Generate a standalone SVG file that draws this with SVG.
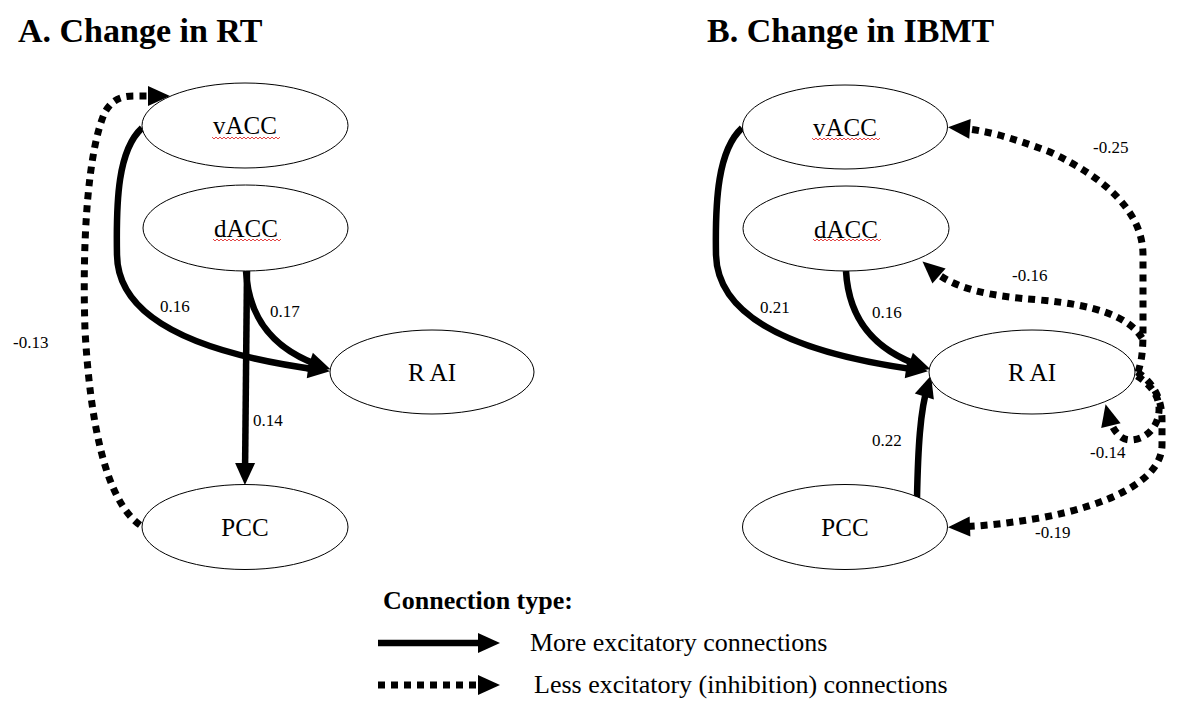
<svg xmlns="http://www.w3.org/2000/svg" xmlns:xlink="http://www.w3.org/1999/xlink" width="1196" height="706" viewBox="0 0 1196 706">
<style>
text{font-family:'Liberation Serif','Times New Roman',Tinos,'DejaVu Serif',serif;fill:#000}
.node{fill:#fff;stroke:#000;stroke-width:1}
.nt{font-size:25px;text-anchor:middle}
.title{font-size:34px;font-weight:bold}
.el{font-size:17px}
.lg{font-size:26px}
.solid{fill:none;stroke:#000;stroke-width:6.5;marker-end:url(#ah)}
.dot{fill:none;stroke:#000;stroke-width:7;stroke-dasharray:7 6;marker-end:url(#ah)}
.sq{fill:none;stroke:#e03030;stroke-width:0.9}
</style>
<defs>
<marker id="ah" markerUnits="userSpaceOnUse" markerWidth="22" markerHeight="20" refX="12" refY="10" orient="auto" overflow="visible">
<path d="M0,0 L22,10 L0,20 z" fill="#000"/>
</marker>
<path id="sqz" d="M0,0 l2,2 l2,-2 l2,2 l2,-2 l2,2 l2,-2 l2,2 l2,-2 l2,2 l2,-2 l2,2 l2,-2 l2,2 l2,-2 l2,2 l2,-2 l2,2 l2,-2 l2,2 l2,-2 l2,2 l2,-2 l2,2 l2,-2 l2,2 l2,-2 l2,2 l2,-2 l2,2 l2,-2 l2,2 l2,-2 l2,2 l2,-2"/>
</defs>
<rect width="1196" height="706" fill="#fff"/>

<text class="title" x="18" y="42" font-family="Liberation Serif, serif">A. Change in RT</text>
<text class="title" x="707" y="42" font-family="Liberation Serif, serif">B. Change in IBMT</text>

<g id="connectors">
<!-- Panel A -->
<path class="solid" d="M142,128 C118,150 116,200 117,255 C118,330 230,358 320,370"/>
<path class="solid" d="M246,271 C249,325 280,352 321,366"/>
<path class="solid" d="M247,271 L245,475"/>
<path class="dot" d="M140,525 C105,500 90,420 85,330 C82,240 88,150 105,112 C112,100 120,96 135,96 L160,96"/>
<!-- Panel B -->
<path class="solid" d="M742,128 C718,150 715,200 716,255 C718,330 830,358 918,370"/>
<path class="solid" d="M846,271 C849,325 880,352 921,366"/>
<path class="solid" d="M917,498 C918,450 920,410 928,385"/>
<path class="dot" d="M1138,372 C1142,360 1143,350 1143,330 L1143,255 C1143,215 1110,180 1050,152 C1010,137 985,130 958,128"/>
<path class="dot" d="M1142,338 C1128,316 1095,305 1040,300 C990,296 955,290 930,268"/>
<path class="dot" d="M1137,372 C1150,380 1162,395 1162,420 L1162,445 C1162,480 1110,505 1040,518 C1010,523 985,526 958,527"/>
<path class="dot" d="M1137,376 C1150,384 1160,396 1159,411 C1158,428 1145,440 1130,440 C1120,440 1112,430 1108,414"/>
</g>

<g id="edge-labels">
<text class="el" x="160" y="312">0.16</text>
<text class="el" x="270" y="317">0.17</text>
<text class="el" x="13" y="348">-0.13</text>
<text class="el" x="253" y="426">0.14</text>
<text class="el" x="760" y="313">0.21</text>
<text class="el" x="872" y="318">0.16</text>
<text class="el" x="1093" y="153">-0.25</text>
<text class="el" x="1012" y="281">-0.16</text>
<text class="el" x="872" y="446">0.22</text>
<text class="el" x="1090" y="458">-0.14</text>
<text class="el" x="1035" y="538">-0.19</text>
</g>

<g id="A-vACC"><ellipse class="node" cx="245" cy="125.5" rx="103" ry="42.5"/><text class="nt" x="245" y="134">vACC</text><use href="#sqz" class="sq" x="212" y="137"/></g>
<g id="A-dACC"><ellipse class="node" cx="245.5" cy="228" rx="102.5" ry="43"/><text class="nt" x="246" y="237">dACC</text><use href="#sqz" class="sq" x="213" y="239"/></g>
<g id="A-RAI"><ellipse class="node" cx="432" cy="372" rx="102" ry="42"/><text class="nt" x="432" y="381">R AI</text></g>
<g id="A-PCC"><ellipse class="node" cx="245" cy="527" rx="103" ry="42.5"/><text class="nt" x="245" y="536">PCC</text></g>

<g id="B-vACC"><ellipse class="node" cx="845" cy="127" rx="102.5" ry="42"/><text class="nt" x="845" y="136">vACC</text><use href="#sqz" class="sq" x="812" y="138"/></g>
<g id="B-dACC"><ellipse class="node" cx="846" cy="228.5" rx="103" ry="42.5"/><text class="nt" x="846" y="238">dACC</text><use href="#sqz" class="sq" x="813" y="239"/></g>
<g id="B-RAI"><ellipse class="node" cx="1032" cy="372" rx="103" ry="42"/><text class="nt" x="1032" y="381">R AI</text></g>
<g id="B-PCC"><ellipse class="node" cx="845" cy="527" rx="102.5" ry="42.5"/><text class="nt" x="845" y="536">PCC</text></g>

<g id="legend">
<text class="lg" x="383" y="609" font-weight="bold">Connection type:</text>
<path class="solid" d="M378,643 L490,643"/>
<text class="lg" x="530" y="651">More excitatory connections</text>
<path class="dot" d="M378,685 L490,685"/>
<text class="lg" x="534" y="693">Less excitatory (inhibition) connections</text>
</g>
</svg>
